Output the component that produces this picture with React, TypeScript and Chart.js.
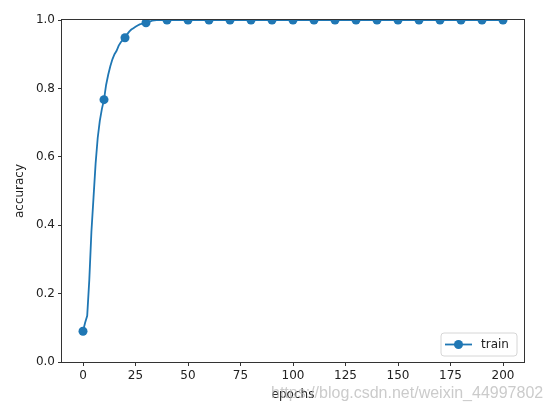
import React, { useEffect, useRef } from "react";
import { Chart, registerables } from "chart.js";

Chart.register(...registerables);

const epochs = [
  0, 1, 2, 3, 4, 5, 6, 7, 8, 9, 10, 11, 12, 13, 14, 15, 16, 17, 18, 19, 20,
  21, 22, 23, 24, 25, 26, 27, 28, 29, 30, 31, 32, 33, 34, 35,
  40, 50, 60, 70, 80, 90, 100, 110, 120, 130, 140, 150, 160, 170, 180, 190, 200,
];
const trainAcc = [
  0.09, 0.115, 0.135, 0.24, 0.38, 0.48, 0.58, 0.655, 0.705, 0.74, 0.767, 0.81, 0.84, 0.865, 0.885, 0.9, 0.91, 0.925, 0.935, 0.942, 0.948,
  0.958, 0.966, 0.972, 0.976, 0.98, 0.984, 0.987, 0.989, 0.99, 0.992, 0.994, 0.996, 0.998, 0.999, 1.0,
  1.0, 1.0, 1.0, 1.0, 1.0, 1.0, 1.0, 1.0, 1.0, 1.0, 1.0, 1.0, 1.0, 1.0, 1.0, 1.0, 1.0,
];
const xTicks = [0, 25, 50, 75, 100, 125, 150, 175, 200];
const yTicks = [0.0, 0.2, 0.4, 0.6, 0.8, 1.0];
const seriesLabel = "train";
const xTitle = "epochs";
const yTitle = "accuracy";
const watermark = "https://blog.csdn.net/weixin_44997802";

const BLUE = "#1f77b4";
const FONT = "DejaVu Sans";

const framePlugin = {
  id: "frameLegend",
  afterDatasetsDraw(chart: any) {
    const { ctx, chartArea } = chart;
    const { left, right, top, bottom } = chartArea;
    ctx.save();
    ctx.strokeStyle = "#333";
    ctx.lineWidth = 1;
    ctx.strokeRect(Math.round(left) - 0.5, Math.round(top) - 0.5, Math.round(right - left) + 1, Math.round(bottom - top) + 1);

    // legend box
    const bw = 76, bh = 23;
    const bx = right - 7 - bw;
    const by = bottom - 6 - bh;
    const r = 3;
    ctx.beginPath();
    ctx.moveTo(bx + r, by);
    ctx.lineTo(bx + bw - r, by);
    ctx.arcTo(bx + bw, by, bx + bw, by + r, r);
    ctx.lineTo(bx + bw, by + bh - r);
    ctx.arcTo(bx + bw, by + bh, bx + bw - r, by + bh, r);
    ctx.lineTo(bx + r, by + bh);
    ctx.arcTo(bx, by + bh, bx, by + bh - r, r);
    ctx.lineTo(bx, by + r);
    ctx.arcTo(bx, by, bx + r, by, r);
    ctx.closePath();
    ctx.fillStyle = "rgba(255,255,255,0.8)";
    ctx.fill();
    ctx.strokeStyle = "#d6d6d6";
    ctx.stroke();
    const cy = by + bh / 2;
    ctx.strokeStyle = BLUE;
    ctx.lineWidth = 1.8;
    ctx.beginPath();
    ctx.moveTo(bx + 4, cy);
    ctx.lineTo(bx + 31, cy);
    ctx.stroke();
    ctx.fillStyle = BLUE;
    ctx.beginPath();
    ctx.arc(bx + 17.5, cy, 4.5, 0, Math.PI * 2);
    ctx.fill();
    ctx.fillStyle = "#222";
    ctx.font = `12px "${FONT}"`;
    ctx.textBaseline = "middle";
    ctx.textAlign = "left";
    ctx.fillText(seriesLabel, bx + 40, cy + 0.5);
    ctx.restore();
  },
  afterDraw(chart: any) {
    const { ctx } = chart;
    ctx.save();
    ctx.font = `16px "Liberation Sans"`;
    ctx.fillStyle = "rgba(185,185,185,0.75)";
    ctx.textBaseline = "middle";
    ctx.textAlign = "left";
    ctx.fillText(watermark, 271, 394);
    ctx.restore();
  },
};

export default function App() {
  const ref = useRef<HTMLCanvasElement | null>(null);
  useEffect(() => {
    if (!ref.current) return;
    const chart = new Chart(ref.current, {
      type: "line",
      data: {
        datasets: [
          {
            label: seriesLabel,
            data: epochs.map((e, i) => ({ x: e, y: trainAcc[i] })),
            borderColor: BLUE,
            backgroundColor: BLUE,
            borderWidth: 1.8,
            tension: 0,
            pointRadius: (c: any) => (c.raw && c.raw.x % 10 === 0 ? 4.5 : 0),
            pointHoverRadius: 0,
            pointBorderWidth: 0,
            pointBackgroundColor: BLUE,
          },
        ],
      },
      options: {
        animation: false,
        responsive: true,
        maintainAspectRatio: false,
        layout: { padding: { top: 20, right: 30, left: 0, bottom: 0 } },
        plugins: { legend: { display: false }, tooltip: { enabled: false } },
        scales: {
          x: {
            type: "linear",
            min: -10,
            max: 210,
            afterBuildTicks: (s: any) => {
              s.ticks = xTicks.map((v) => ({ value: v }));
            },
            afterFit: (s: any) => {
              s.height = 50;
            },
            grid: { drawOnChartArea: false, drawTicks: true, tickLength: 4, color: "#333" },
            border: { display: false },
            ticks: {
              color: "#222",
              font: { family: FONT, size: 12 },
              padding: 3,
              maxRotation: 0,
              autoSkip: false,
              callback: (v: any) => String(v),
            },
            title: {
              display: true,
              text: xTitle,
              color: "#222",
              font: { family: FONT, size: 12 },
              padding: { top: 0, bottom: 10 },
            },
          },
          y: {
            type: "linear",
            min: 0,
            max: 1,
            afterBuildTicks: (s: any) => {
              s.ticks = yTicks.map((v) => ({ value: v }));
            },
            afterFit: (s: any) => {
              s.width = 62;
            },
            grid: { drawOnChartArea: false, drawTicks: true, tickLength: 4, color: "#333" },
            border: { display: false },
            ticks: {
              color: "#222",
              font: { family: FONT, size: 12 },
              padding: 3,
              autoSkip: false,
              callback: (v: any) => Number(v).toFixed(1),
            },
            title: {
              display: true,
              text: yTitle,
              color: "#222",
              font: { family: FONT, size: 12 },
              padding: { top: 13, bottom: 0 },
            },
          },
        },
      },
      plugins: [framePlugin],
    } as any);
    return () => chart.destroy();
  }, []);
  return (
    <div style={{ position: "fixed", left: 0, top: 0, width: 554, height: 412, background: "#fff" }}>
      <canvas ref={ref} />
    </div>
  );
}
